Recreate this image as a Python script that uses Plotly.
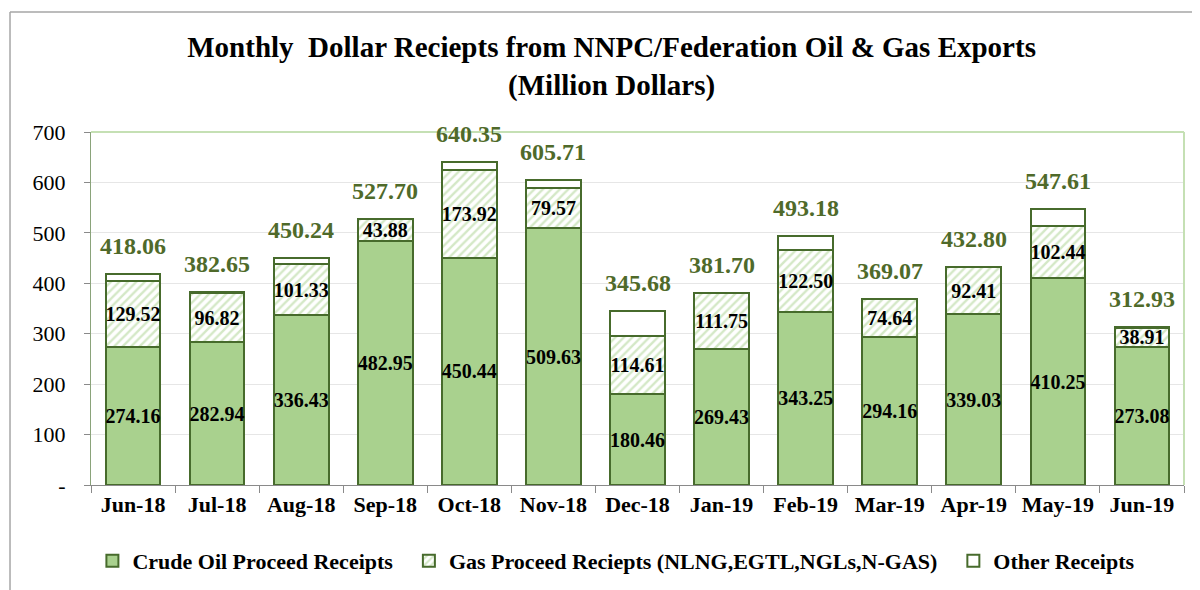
import plotly.graph_objects as go

months = ["Jun-18", "Jul-18", "Aug-18", "Sep-18", "Oct-18", "Nov-18", "Dec-18",
          "Jan-19", "Feb-19", "Mar-19", "Apr-19", "May-19", "Jun-19"]
crude = [274.16, 282.94, 336.43, 482.95, 450.44, 509.63, 180.46,
         269.43, 343.25, 294.16, 339.03, 410.25, 273.08]
gas = [129.52, 96.82, 101.33, 43.88, 173.92, 79.57, 114.61,
       111.75, 122.50, 74.64, 92.41, 102.44, 38.91]
other = [14.38, 2.89, 12.48, 0.87, 15.99, 16.51, 50.61,
         0.52, 27.43, 0.27, 1.36, 34.92, 0.94]
totals = [418.06, 382.65, 450.24, 527.70, 640.35, 605.71, 345.68,
          381.70, 493.18, 369.07, 432.80, 547.61, 312.93]
y_ticks = [0, 100, 200, 300, 400, 500, 600, 700]
y_tick_text = ["-", "100", "200", "300", "400", "500", "600", "700"]
series_names = ["Crude Oil Proceed Receipts",
                "Gas Proceed Reciepts (NLNG,EGTL,NGLs,N-GAS)",
                "Other Receipts"]

FONT = "Liberation Serif"
OUTLINE = "#476b2c"
GREEN = "#a9d18e"
LABEL_GREEN = "#4f6a2a"
PAD = "\u00a0" * 2

fig = go.Figure()

fig.add_trace(go.Bar(
    x=months, y=crude, name=series_names[0] + PAD,
    marker=dict(color=GREEN, line=dict(color=OUTLINE, width=2)),
    text=[f"{v:.2f}" for v in crude], textposition="inside",
    insidetextanchor="middle", textangle=0, constraintext="none",
    textfont=dict(family=FONT, size=20, color="black", weight="bold"),
    hoverinfo="skip",
))
fig.add_trace(go.Bar(
    x=months, y=gas, name=series_names[1] + PAD,
    marker=dict(color="white", line=dict(color=OUTLINE, width=2),
                pattern=dict(shape="/", fgcolor=GREEN, bgcolor="white",
                             size=6, solidity=0.4)),
    text=[f"{v:.2f}" for v in gas], textposition="inside",
    insidetextanchor="middle", textangle=0, constraintext="none",
    textfont=dict(family=FONT, size=20, color="black", weight="bold"),
    hoverinfo="skip",
))
fig.add_trace(go.Bar(
    x=months, y=other, name=series_names[2],
    marker=dict(color="white", line=dict(color=OUTLINE, width=2)),
    hoverinfo="skip",
))

annotations = [
    dict(x=m, y=t, xref="x", yref="y", text=f"<b>{t:.2f}</b>",
         showarrow=False, yanchor="bottom", yshift=13,
         font=dict(family=FONT, size=24, color=LABEL_GREEN))
    for m, t in zip(months, totals)
]

fig.update_layout(
    barmode="stack",
    bargap=0.35,
    width=1200, height=590,
    paper_bgcolor="white", plot_bgcolor="white",
    margin=dict(l=83, r=24, t=124, b=113),
    font=dict(family=FONT, color="black"),
    title=dict(
        text="<b>Monthly  Dollar Reciepts from NNPC/Federation Oil & Gas Exports<br>(Million Dollars)</b>",
        x=0.503, xanchor="center", y=0.917, yanchor="top",
        font=dict(family=FONT, size=29, color="black"),
    ),
    legend=dict(
        orientation="h", xref="container", yref="container",
        x=0.507, xanchor="center", y=0.063, yanchor="middle",
        font=dict(family=FONT, size=22, color="black", weight="bold"),
        traceorder="normal", itemwidth=30,
    ),
    xaxis=dict(
        type="category", showline=True, linecolor="#8a8a8a", linewidth=1,
        ticks="outside", tickson="boundaries", ticklen=7, tickcolor="#8a8a8a",
        tickfont=dict(family=FONT, size=22, color="black", weight="bold"),
        showgrid=False,
    ),
    yaxis=dict(
        range=[0, 700], tickvals=y_ticks, ticktext=y_tick_text,
        showline=True, linecolor="#8aa37a", linewidth=1,
        ticks="outside", ticklen=6, tickcolor="#8a8a8a",
        ticklabelstandoff=14,
        gridcolor="#e6e6e6", gridwidth=1,
        tickfont=dict(family=FONT, size=22, color="black"),
        zeroline=False,
    ),
    annotations=annotations,
    shapes=[
        dict(type="line", xref="paper", yref="paper", x0=0, x1=1, y0=1, y1=1,
             line=dict(color="#c5e0b4", width=2)),
        dict(type="line", xref="paper", yref="paper", x0=1, x1=1, y0=0, y1=1,
             line=dict(color="#c5e0b4", width=2)),
        dict(type="line", xref="paper", yref="paper", x0=-0.0741, x1=1.1, y0=1.34, y1=1.34,
             line=dict(color="#a6a6a6", width=1.5)),
        dict(type="line", xref="paper", yref="paper", x0=-0.0741, x1=-0.0741, y0=-0.4, y1=1.34,
             line=dict(color="#a6a6a6", width=1.5)),
    ],
)

fig.write_html("out.html")
